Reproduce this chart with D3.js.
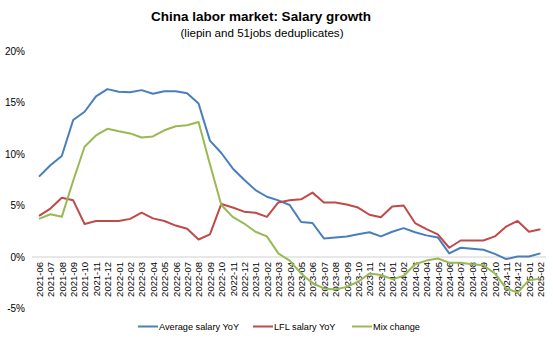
<!DOCTYPE html>
<html><head><meta charset="utf-8">
<script src="https://cdn.jsdelivr.net/npm/d3@7"></script>
<style>body{margin:0;background:#fff;}svg{display:block;font-family:"Liberation Sans",Arial,sans-serif;}</style>
</head><body>
<svg id="c" width="553" height="341"></svg>
<script>
const months = ["2021-06","2021-07","2021-08","2021-09","2021-10","2021-11","2021-12",
"2022-01","2022-02","2022-03","2022-04","2022-05","2022-06","2022-07","2022-08","2022-09","2022-10","2022-11","2022-12",
"2023-01","2023-02","2023-03","2023-04","2023-05","2023-06","2023-07","2023-08","2023-09","2023-10","2023-11","2023-12",
"2024-01","2024-02","2024-03","2024-04","2024-05","2024-06","2024-07","2024-08","2024-09","2024-10","2024-11","2024-12",
"2025-01","2025-02"];
const avgSalary = [7.8,8.9,9.8,13.3,14.1,15.6,16.3,16.05,16.0,16.2,15.85,16.1,16.1,15.9,14.9,11.3,10.1,8.6,7.5,
6.5,5.85,5.5,5.05,3.4,3.3,1.8,1.9,2.0,2.2,2.4,2.0,2.45,2.8,2.4,2.1,1.9,0.35,0.9,0.8,0.7,0.3,-0.2,0.05,0.05,0.35];
const lflSalary = [4.0,4.7,5.75,5.5,3.2,3.5,3.5,3.5,3.7,4.3,3.75,3.5,3.05,2.75,1.7,2.2,5.15,4.8,4.4,
4.3,3.9,5.3,5.5,5.6,6.25,5.3,5.3,5.1,4.8,4.1,3.85,4.9,5.0,3.3,2.7,2.2,0.9,1.6,1.6,1.6,2.0,2.95,3.5,2.45,2.7];
const mixChange = [3.7,4.15,3.9,7.4,10.7,11.8,12.45,12.2,12.0,11.6,11.7,12.3,12.7,12.8,13.1,9.0,5.05,3.9,3.25,
2.45,2.0,0.35,-0.35,-1.6,-2.55,-3.05,-3.15,-2.9,-2.4,-1.6,-1.75,-2.15,-1.85,-0.7,-0.35,-0.15,-0.55,-0.55,-0.7,-0.8,-1.6,-3.05,-3.45,-2.25,-2.1];
const yTicks = [-5,0,5,10,15,20];
const seriesNames = ["Average salary YoY","LFL salary YoY","Mix change"];
const seriesColors = ["#4A7EBB","#BE4B48","#98B954"];
const seriesData = [avgSalary, lflSalary, mixChange];

const svg = d3.select("#c");
const x = d3.scalePoint().domain(months).range([39, 540.4]);
const y = d3.scaleLinear().domain([-5, 20]).range([308.5, 51]);

svg.append("text").attr("x", 261).attr("y", 21).attr("text-anchor","middle")
  .attr("font-size", 13.5).attr("font-weight","bold").attr("fill","#000").text("China labor market: Salary growth");
svg.append("text").attr("x", 262).attr("y", 37).attr("text-anchor","middle")
  .attr("font-size", 11.6).attr("fill","#000").text("(liepin and 51jobs deduplicates)");

// y axis labels
const yAxis = d3.axisLeft(y).tickValues(yTicks).tickSize(0).tickPadding(0).tickFormat(d => d + "%");
const ya = svg.append("g").attr("transform","translate(25,0)").call(yAxis);
ya.select(".domain").remove();
ya.selectAll("text").attr("font-size", 10).attr("fill","#000").attr("font-family","Liberation Sans, Arial, sans-serif");

// x axis at zero
const xAxis = d3.axisBottom(x).tickSize(0).tickPadding(0);
const xa = svg.append("g").attr("transform", `translate(0,${y(0)})`).call(xAxis);
xa.select(".domain").attr("d", `M32,0H546`).attr("stroke","#D0D0D0").attr("stroke-width",1);
xa.selectAll("text")
  .attr("font-size", 9.5).attr("fill","#000").attr("font-family","Liberation Sans, Arial, sans-serif")
  .attr("text-anchor","end").attr("dy","0.35em")
  .attr("transform","translate(0,5) rotate(-90)");

const line = d3.line().x((d,i) => x(months[i])).y(d => y(d));
seriesData.forEach((s, k) => {
  svg.append("path").datum(s).attr("d", line).attr("fill","none")
    .attr("stroke", seriesColors[k]).attr("stroke-width", 2).attr("stroke-linejoin","round");
});

// legend
const legX = [138, 253, 352];
const lg = svg.append("g");
seriesNames.forEach((n, k) => {
  lg.append("line").attr("x1", legX[k]).attr("x2", legX[k] + 20).attr("y1", 326.5).attr("y2", 326.5)
    .attr("stroke", seriesColors[k]).attr("stroke-width", 2);
  lg.append("text").attr("x", legX[k] + 21).attr("y", 330).attr("font-size", 9.2).attr("fill","#000").text(n);
});
</script>
</body></html>
